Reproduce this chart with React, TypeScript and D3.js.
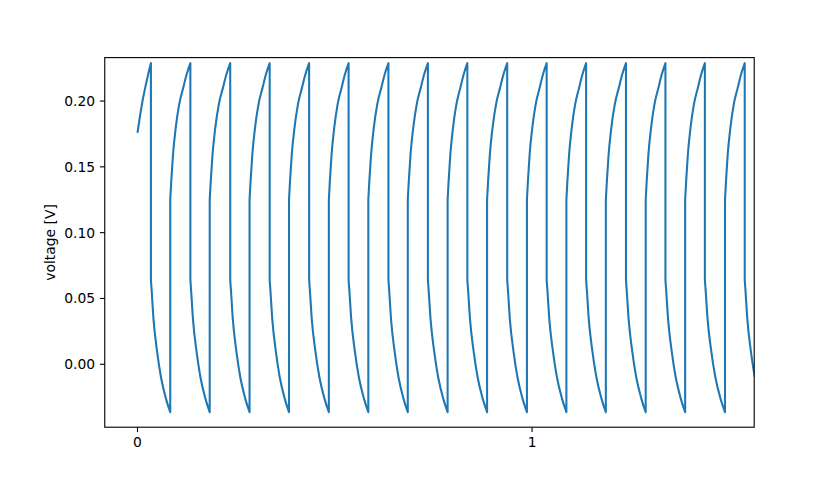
import React from 'react';
import * as d3 from 'd3';

// drop (discharge start) and rise (charge start) times
const dropTimes = [0.034, 0.134, 0.235, 0.335, 0.435, 0.535, 0.636, 0.736, 0.836, 0.937, 1.037, 1.137, 1.238, 1.338, 1.438, 1.539];
const riseTimes = [0.083, 0.183, 0.284, 0.384, 0.485, 0.585, 0.685, 0.786, 0.886, 0.987, 1.087, 1.187, 1.288, 1.388, 1.489];

// first, partial charge branch
const firstRiseT = [0, 0.006, 0.014, 0.022, 0.028, 0.034];
const firstRiseV = [0.1758, 0.188, 0.202, 0.2135, 0.2215, 0.2288];

// shape of one charge branch (offset, voltage)
const riseOffsets = [0, 0.0025, 0.0068, 0.0135, 0.0221, 0.0322, 0.0406, 0.05];
const riseValues = [0.125, 0.139, 0.1592, 0.1795, 0.1973, 0.21, 0.2201, 0.2288];

// shape of one discharge branch
const fallOffsets = [0, 0.0018, 0.0068, 0.0152, 0.0254, 0.0381, 0.049];
const fallValues = [0.064, 0.0564, 0.0335, 0.0107, -0.0097, -0.0261, -0.0364];

const endTime = 1.563;

const yTicks = [0.0, 0.05, 0.1, 0.15, 0.2];
const xTicks = [0, 1];

const W = 838, H = 480;
const margin = { left: 104.75, right: 838 - 754.2, top: 57.6, bottom: 480 - 427.2 };

export default function App() {
  const x = d3.scaleLinear().domain([-0.083, 1.563]).range([margin.left, W - margin.right]);
  const y = d3.scaleLinear().domain([-0.0478, 0.233]).range([H - margin.bottom, margin.top]);

  const line = d3.line<[number, number]>()
    .x(d => x(d[0]))
    .y(d => y(d[1]))
    .curve(d3.curveMonotoneX);

  const branches: [number, number][][] = [];
  branches.push(firstRiseT.map((t, i) => [t, firstRiseV[i]]));
  dropTimes.forEach((t0, i) => {
    const t1 = i < riseTimes.length ? riseTimes[i] : t0 + 0.049;
    const k = (t1 - t0) / 0.049;
    const fall: [number, number][] = fallOffsets.map((o, j) => [t0 + o * k, fallValues[j]]);
    branches.push(fall.filter(p => p[0] <= endTime + 0.01));
    if (i < riseTimes.length) {
      const r0 = riseTimes[i];
      const r1 = dropTimes[i + 1];
      const kr = (r1 - r0) / 0.05;
      branches.push(riseOffsets.map((o, j) => [r0 + o * kr, riseValues[j]]));
    }
  });

  const d = branches.map((b, i) => {
    const s = line(b) || '';
    return i === 0 ? s : 'L' + s.slice(1);
  }).join('');

  const font = "'DejaVu Sans', sans-serif";

  return (
    <svg width={W} height={H} style={{ position: 'absolute', left: 0, top: 0, background: '#fff' }}>
      <defs>
        <clipPath id="plot">
          <rect x={margin.left} y={margin.top} width={W - margin.left - margin.right} height={H - margin.top - margin.bottom} />
        </clipPath>
      </defs>
      <path d={d} fill="none" stroke="#1f77b4" strokeWidth={2.08} clipPath="url(#plot)" strokeLinejoin="round" />
      <rect x={margin.left} y={margin.top} width={W - margin.left - margin.right} height={H - margin.top - margin.bottom}
        fill="none" stroke="#000" strokeWidth={1.11} />
      {yTicks.map(t => (
        <g key={t}>
          <line x1={margin.left - 4.86} x2={margin.left} y1={y(t)} y2={y(t)} stroke="#000" strokeWidth={1.11} />
          <text x={margin.left - 9.7} y={y(t)} dy="0.35em" textAnchor="end" fontFamily={font} fontSize={13.89}>
            {t.toFixed(2)}
          </text>
        </g>
      ))}
      {xTicks.map(t => (
        <g key={t}>
          <line x1={x(t)} x2={x(t)} y1={H - margin.bottom} y2={H - margin.bottom + 4.86} stroke="#000" strokeWidth={1.11} />
          <text x={x(t)} y={H - margin.bottom + 9.7} dy="0.76em" textAnchor="middle" fontFamily={font} fontSize={13.89}>
            {t}
          </text>
        </g>
      ))}
      <text transform={`translate(55,${(margin.top + H - margin.bottom) / 2}) rotate(-90)`} textAnchor="middle"
        fontFamily={font} fontSize={13.89}>
        voltage [V]
      </text>
    </svg>
  );
}
